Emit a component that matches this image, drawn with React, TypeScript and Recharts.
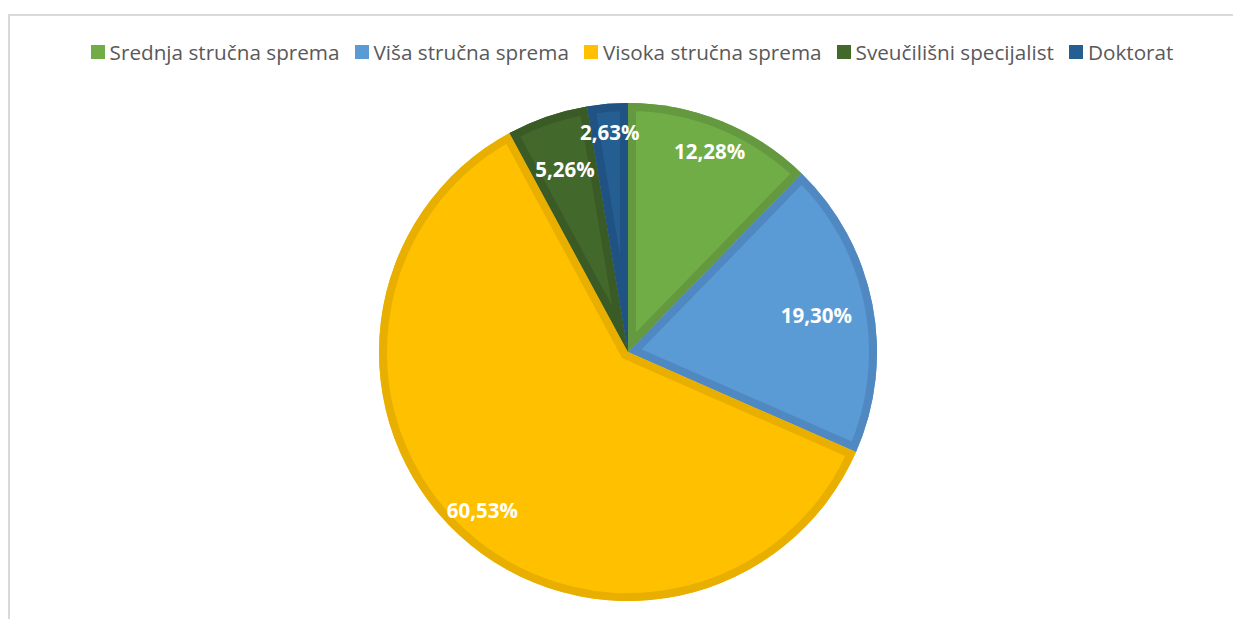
import { PieChart, Pie, Cell } from 'recharts';

const categories = ['Srednja stručna sprema', 'Viša stručna sprema', 'Visoka stručna sprema', 'Sveučilišni specijalist', 'Doktorat'];
const counts = [14, 22, 69, 6, 3];
const fills = ['#70AD47', '#5B9BD5', '#FFC000', '#43682B', '#255E91'];
const borders = ['#64993F', '#5089C2', '#E8AF00', '#3A5B25', '#205283'];
// distance of each data label from the centre, like Excel's "best fit"
const labelRadius = [217, 192, 215, 194, 221];

const data = categories.map((name, i) => ({ name, value: counts[i] }));
const total = counts.reduce((a, b) => a + b, 0);

const RAD = Math.PI / 180;
const pt = (cx: number, cy: number, r: number, a: number) => ({
  x: cx + Math.cos(-a * RAD) * r,
  y: cy + Math.sin(-a * RAD) * r,
});

const sectorPath = (cx: number, cy: number, r: number, start: number, end: number) => {
  const s = pt(cx, cy, r, start);
  const e = pt(cx, cy, r, end);
  const large = Math.abs(end - start) > 180 ? 1 : 0;
  const sweep = start > end ? 1 : 0;
  return `M${cx},${cy} L${s.x},${s.y} A${r},${r} 0 ${large} ${sweep} ${e.x},${e.y} Z`;
};

const renderLabel = (props: any) => {
  const { cx, cy, outerRadius, startAngle, endAngle, midAngle, index, value } = props;
  const d = sectorPath(cx, cy, outerRadius, startAngle, endAngle);
  const p = pt(cx, cy, labelRadius[index], midAngle);
  const pct = ((value / total) * 100).toFixed(2).replace('.', ',') + '%';
  return (
    <g key={`lbl-${index}`}>
      <defs>
        <clipPath id={`clip-${index}`}>
          <path d={d} />
        </clipPath>
      </defs>
      <path d={d} fill="none" stroke={borders[index]} strokeWidth={16} clipPath={`url(#clip-${index})`} />
      <text
        x={p.x}
        y={p.y}
        fill="#fff"
        textAnchor="middle"
        dominantBaseline="central"
        style={{ fontFamily: '"Open Sans", sans-serif', fontWeight: 700, fontSize: 20.5 }}
      >
        {pct}
      </text>
    </g>
  );
};

export default function App() {
  return (
    <div style={{ position: 'fixed', left: 0, top: 0, width: 1233, height: 619, background: '#fff', overflow: 'hidden' }}>
      <div style={{ position: 'absolute', left: 8, top: 14, width: 1400, height: 800, borderTop: '2px solid #D9D9D9', borderLeft: '2px solid #D9D9D9' }} />
      <div
        style={{
          position: 'absolute', top: 37, left: 0, width: 1264, display: 'flex', justifyContent: 'center',
          fontFamily: '"Open Sans", sans-serif', fontSize: 20.7, color: '#595959', lineHeight: '30px',
        }}
      >
        {categories.map((c, i) => (
          <div key={c} style={{ display: 'flex', alignItems: 'center', marginRight: i < categories.length - 1 ? 15 : 0 }}>
            <span style={{ width: 14, height: 14, background: fills[i], marginRight: 5, display: 'inline-block' }} />
            <span>{c}</span>
          </div>
        ))}
      </div>
      <PieChart width={1233} height={619} margin={{ top: 0, right: 0, bottom: 0, left: 0 }} style={{ position: 'absolute', left: 0, top: 0 }}>
        <Pie
          data={data}
          dataKey="value"
          nameKey="name"
          cx={628}
          cy={352}
          outerRadius={249}
          startAngle={90}
          endAngle={-270}
          stroke="none"
          labelLine={false}
          label={renderLabel}
          isAnimationActive={false}
        >
          {data.map((d, i) => (
            <Cell key={d.name} fill={fills[i]} />
          ))}
        </Pie>
      </PieChart>
    </div>
  );
}
